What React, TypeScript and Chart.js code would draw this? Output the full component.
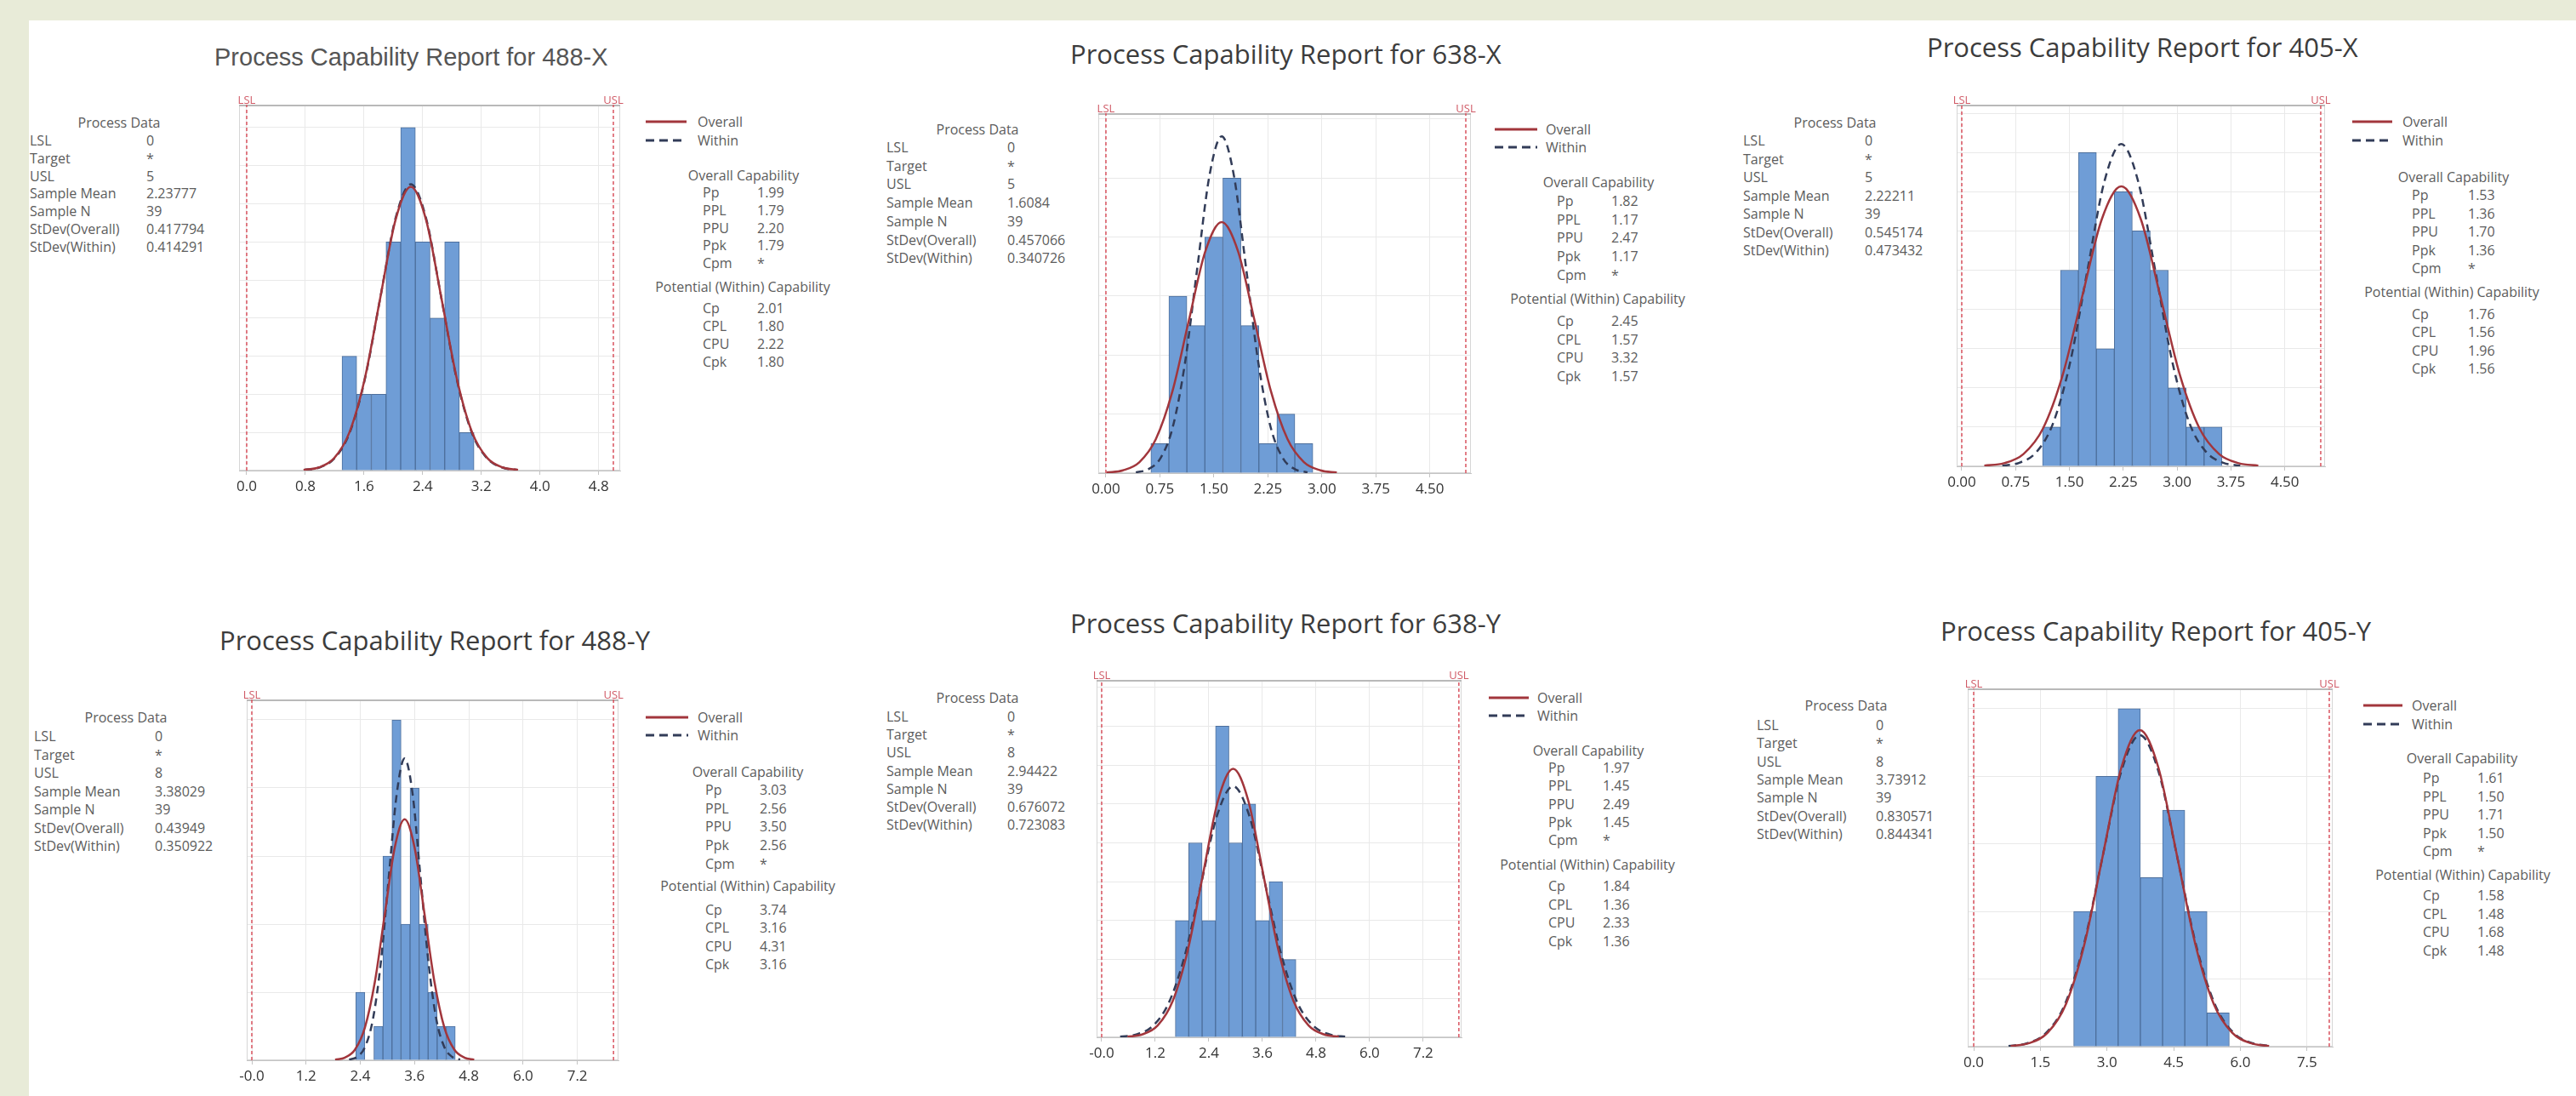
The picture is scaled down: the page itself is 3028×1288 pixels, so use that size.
import React, { useEffect, useRef } from 'react';
import { Chart, registerables } from 'chart.js';

Chart.register(...registerables);

// ---------------- shared labels ----------------
const processLabels = ['LSL', 'Target', 'USL', 'Sample Mean', 'Sample N', 'StDev(Overall)', 'StDev(Within)'];
const overallCapLabels = ['Pp', 'PPL', 'PPU', 'Ppk', 'Cpm'];
const potentialCapLabels = ['Cp', 'CPL', 'CPU', 'Cpk'];
const legendLabels = ['Overall', 'Within'];

// ---------------- Panel 1: 488-X ----------------
const p1Title = 'Process Capability Report for 488-X';
const p1Spec = [0, 5];
const p1BinMids = [1.4, 1.6, 1.8, 2.0, 2.2, 2.4, 2.6, 2.8, 3.0];
const p1Counts = [3, 2, 2, 6, 9, 6, 4, 6, 1];
const p1OverallX = [0.776, 0.984, 1.193, 1.402, 1.611, 1.820, 2.029, 2.238, 2.447, 2.656, 2.865, 3.073, 3.282, 3.491, 3.700];
const p1OverallY = [0.016, 0.083, 0.327, 1.008, 2.418, 4.517, 6.573, 7.448, 6.573, 4.517, 2.418, 1.008, 0.327, 0.083, 0.016];
const p1WithinX = [0.788, 0.995, 1.202, 1.409, 1.616, 1.824, 2.031, 2.238, 2.445, 2.652, 2.859, 3.066, 3.274, 3.481, 3.688];
const p1WithinY = [0.017, 0.083, 0.330, 1.016, 2.439, 4.555, 6.628, 7.511, 6.628, 4.555, 2.439, 1.016, 0.330, 0.083, 0.017];
const p1Ticks = [0, 0.8, 1.6, 2.4, 3.2, 4.0, 4.8];
const p1TickLabels = ['0.0', '0.8', '1.6', '2.4', '3.2', '4.0', '4.8'];
const p1Process = ['0', '*', '5', '2.23777', '39', '0.417794', '0.414291'];
const p1OverallCap = ['1.99', '1.79', '2.20', '1.79', '*'];
const p1PotentialCap = ['2.01', '1.80', '2.22', '1.80'];

// ---------------- Panel 2: 638-X ----------------
const p2Title = 'Process Capability Report for 638-X';
const p2Spec = [0, 5];
const p2BinMids = [0.75, 1.0, 1.25, 1.5, 1.75, 2.0, 2.25, 2.5, 2.75];
const p2Counts = [1, 6, 5, 8, 10, 5, 1, 2, 1];
const p2OverallX = [0.009, 0.237, 0.466, 0.694, 0.923, 1.151, 1.380, 1.608, 1.837, 2.066, 2.294, 2.523, 2.751, 2.980, 3.208];
const p2OverallY = [0.019, 0.094, 0.374, 1.151, 2.763, 5.161, 7.510, 8.510, 7.510, 5.161, 2.763, 1.151, 0.374, 0.094, 0.019];
const p2WithinX = [0.416, 0.586, 0.757, 0.927, 1.097, 1.268, 1.438, 1.608, 1.779, 1.949, 2.120, 2.290, 2.460, 2.631, 2.801];
const p2WithinY = [0.025, 0.127, 0.501, 1.545, 3.707, 6.924, 10.075, 11.416, 10.075, 6.924, 3.707, 1.545, 0.501, 0.127, 0.025];
const p2Ticks = [0, 0.75, 1.5, 2.25, 3.0, 3.75, 4.5];
const p2TickLabels = ['0.00', '0.75', '1.50', '2.25', '3.00', '3.75', '4.50'];
const p2Process = ['0', '*', '5', '1.6084', '39', '0.457066', '0.340726'];
const p2OverallCap = ['1.82', '1.17', '2.47', '1.17', '*'];
const p2PotentialCap = ['2.45', '1.57', '3.32', '1.57'];

// ---------------- Panel 3: 405-X ----------------
const p3Title = 'Process Capability Report for 405-X';
const p3Spec = [0, 5];
const p3BinMids = [1.25, 1.5, 1.75, 2.0, 2.25, 2.5, 2.75, 3.0, 3.25, 3.5];
const p3Counts = [1, 5, 8, 3, 7, 6, 5, 2, 1, 1];
const p3OverallX = [0.314, 0.587, 0.859, 1.132, 1.404, 1.677, 1.950, 2.222, 2.495, 2.767, 3.040, 3.312, 3.585, 3.858, 4.130];
const p3OverallY = [0.016, 0.079, 0.313, 0.965, 2.317, 4.327, 6.297, 7.135, 6.297, 4.327, 2.317, 0.965, 0.313, 0.079, 0.016];
const p3WithinX = [0.565, 0.802, 1.039, 1.275, 1.512, 1.749, 1.985, 2.222, 2.459, 2.696, 2.932, 3.169, 3.406, 3.642, 3.879];
const p3WithinY = [0.018, 0.091, 0.361, 1.112, 2.668, 4.983, 7.251, 8.216, 7.251, 4.983, 2.668, 1.112, 0.361, 0.091, 0.018];
const p3Ticks = [0, 0.75, 1.5, 2.25, 3.0, 3.75, 4.5];
const p3TickLabels = ['0.00', '0.75', '1.50', '2.25', '3.00', '3.75', '4.50'];
const p3Process = ['0', '*', '5', '2.22211', '39', '0.545174', '0.473432'];
const p3OverallCap = ['1.53', '1.36', '1.70', '1.36', '*'];
const p3PotentialCap = ['1.76', '1.56', '1.96', '1.56'];

// ---------------- Panel 4: 488-Y ----------------
const p4Title = 'Process Capability Report for 488-Y';
const p4Spec = [0, 8];
const p4BinMids = [2.4, 2.6, 2.8, 3.0, 3.2, 3.4, 3.6, 3.8, 4.0, 4.2, 4.4];
const p4Counts = [2, 0, 1, 6, 10, 4, 8, 4, 2, 1, 1];
const p4OverallX = [1.842, 2.062, 2.282, 2.501, 2.721, 2.941, 3.161, 3.380, 3.600, 3.820, 4.040, 4.259, 4.479, 4.699, 4.919];
const p4OverallY = [0.016, 0.079, 0.311, 0.958, 2.299, 4.294, 6.248, 7.080, 6.248, 4.294, 2.299, 0.958, 0.311, 0.079, 0.016];
const p4WithinX = [2.152, 2.327, 2.503, 2.678, 2.854, 3.029, 3.205, 3.380, 3.556, 3.731, 3.907, 4.082, 4.258, 4.433, 4.608];
const p4WithinY = [0.020, 0.098, 0.389, 1.200, 2.879, 5.378, 7.825, 8.867, 7.825, 5.378, 2.879, 1.200, 0.389, 0.098, 0.020];
const p4Ticks = [0, 1.2, 2.4, 3.6, 4.8, 6.0, 7.2];
const p4TickLabels = ['-0.0', '1.2', '2.4', '3.6', '4.8', '6.0', '7.2'];
const p4Process = ['0', '*', '8', '3.38029', '39', '0.43949', '0.350922'];
const p4OverallCap = ['3.03', '2.56', '3.50', '2.56', '*'];
const p4PotentialCap = ['3.74', '3.16', '4.31', '3.16'];

// ---------------- Panel 5: 638-Y ----------------
const p5Title = 'Process Capability Report for 638-Y';
const p5Spec = [0, 8];
const p5BinMids = [1.8, 2.1, 2.4, 2.7, 3.0, 3.3, 3.6, 3.9, 4.2];
const p5Counts = [3, 5, 3, 8, 5, 6, 3, 4, 2];
const p5OverallX = [0.578, 0.916, 1.254, 1.592, 1.930, 2.268, 2.606, 2.944, 3.282, 3.620, 3.958, 4.296, 4.634, 4.972, 5.311];
const p5OverallY = [0.015, 0.077, 0.303, 0.934, 2.242, 4.187, 6.093, 6.904, 6.093, 4.187, 2.242, 0.934, 0.303, 0.077, 0.015];
const p5WithinX = [0.414, 0.775, 1.137, 1.498, 1.860, 2.221, 2.583, 2.944, 3.306, 3.667, 4.029, 4.390, 4.752, 5.114, 5.475];
const p5WithinY = [0.014, 0.072, 0.283, 0.873, 2.096, 3.915, 5.697, 6.455, 5.697, 3.915, 2.096, 0.873, 0.283, 0.072, 0.014];
const p5Ticks = [0, 1.2, 2.4, 3.6, 4.8, 6.0, 7.2];
const p5TickLabels = ['-0.0', '1.2', '2.4', '3.6', '4.8', '6.0', '7.2'];
const p5Process = ['0', '*', '8', '2.94422', '39', '0.676072', '0.723083'];
const p5OverallCap = ['1.97', '1.45', '2.49', '1.45', '*'];
const p5PotentialCap = ['1.84', '1.36', '2.33', '1.36'];

// ---------------- Panel 6: 405-Y ----------------
const p6Title = 'Process Capability Report for 405-Y';
const p6Spec = [0, 8];
const p6BinMids = [2.5, 3.0, 3.5, 4.0, 4.5, 5.0, 5.5];
const p6Counts = [4, 8, 10, 5, 7, 4, 1];
const p6OverallX = [0.832, 1.247, 1.663, 2.078, 2.493, 2.909, 3.324, 3.739, 4.154, 4.570, 4.985, 5.400, 5.815, 6.231, 6.646];
const p6OverallY = [0.021, 0.104, 0.411, 1.267, 3.041, 5.680, 8.265, 9.366, 8.265, 5.680, 3.041, 1.267, 0.411, 0.104, 0.021];
const p6WithinX = [0.784, 1.206, 1.628, 2.050, 2.473, 2.895, 3.317, 3.739, 4.161, 4.583, 5.006, 5.428, 5.850, 6.272, 6.694];
const p6WithinY = [0.020, 0.102, 0.404, 1.247, 2.992, 5.588, 8.131, 9.214, 8.131, 5.588, 2.992, 1.247, 0.404, 0.102, 0.020];
const p6Ticks = [0, 1.5, 3.0, 4.5, 6.0, 7.5];
const p6TickLabels = ['0.0', '1.5', '3.0', '4.5', '6.0', '7.5'];
const p6Process = ['0', '*', '8', '3.73912', '39', '0.830571', '0.844341'];
const p6OverallCap = ['1.61', '1.50', '1.71', '1.50', '*'];
const p6PotentialCap = ['1.58', '1.48', '1.68', '1.48'];

// ---------------- styles ----------------
const BG = '#e8ebd8';
const BAR_FILL = '#6f9dd6';
const BAR_EDGE = '#4d6f9c';
const OVERALL_COLOR = '#a2363c';
const WITHIN_COLOR = '#323c58';
const SPEC_COLOR = '#d9535f';
const GRID_COLOR = '#e9e9e9';
const TEXT_COLOR = '#5c5c5c';
const FONT = "'Open Sans', 'Noto Sans', sans-serif";
const PADX = 32;
const PADT = 30;
const AXISH = 40;
const PADB = 6;

const PANELS = [
  {
    title: p1Title, spec: p1Spec, mids: p1BinMids, counts: p1Counts,
    ox: p1OverallX, oy: p1OverallY, wx: p1WithinX, wy: p1WithinY,
    ticks: p1Ticks, tickLabels: p1TickLabels, proc: p1Process, oc: p1OverallCap, pc: p1PotentialCap,
    plot: { left: 281, top: 123, right: 729, bottom: 553 }, xMin: -0.104, xMax: 5.093, yMax: 9.6, yStep: 1,
    titleL: { left: 252, cy: 67, family: "'Liberation Sans', Arial, sans-serif", size: 29, color: '#555' },
    pd: { cx: 140, cy: 144, labelX: 35, valueX: 172, y0: 165, dy: 20.8 },
    lg: { x0: 759, x1: 807, textX: 820, y1: 143, y2: 165 },
    cap: { cx: 874, cy: 206, labelX: 826, valueX: 890, y0: 226, dy: 20.8, potCx: 873, potCy: 337, potY0: 362, potDy: 21 },
  },
  {
    title: p2Title, spec: p2Spec, mids: p2BinMids, counts: p2Counts,
    ox: p2OverallX, oy: p2OverallY, wx: p2WithinX, wy: p2WithinY,
    ticks: p2Ticks, tickLabels: p2TickLabels, proc: p2Process, oc: p2OverallCap, pc: p2PotentialCap,
    plot: { left: 1291, top: 133, right: 1729, bottom: 556 }, xMin: -0.106, xMax: 5.071, yMax: 12.2, yStep: 2,
    titleL: { left: 1258, cy: 63, family: FONT, size: 31, color: '#3c3c3c' },
    pd: { cx: 1149, cy: 152, labelX: 1042, valueX: 1184, y0: 173, dy: 21.7 },
    lg: { x0: 1757, x1: 1807, textX: 1817, y1: 152, y2: 173 },
    cap: { cx: 1879, cy: 214, labelX: 1830, valueX: 1894, y0: 236, dy: 21.7, potCx: 1878, potCy: 351, potY0: 377, potDy: 21.7 },
  },
  {
    title: p3Title, spec: p3Spec, mids: p3BinMids, counts: p3Counts,
    ox: p3OverallX, oy: p3OverallY, wx: p3WithinX, wy: p3WithinY,
    ticks: p3Ticks, tickLabels: p3TickLabels, proc: p3Process, oc: p3OverallCap, pc: p3PotentialCap,
    plot: { left: 2300, top: 123, right: 2733, bottom: 548 }, xMin: -0.071, xMax: 5.06, yMax: 9.22, yStep: 1,
    titleL: { left: 2265, cy: 55, family: FONT, size: 31, color: '#3c3c3c' },
    pd: { cx: 2157, cy: 144, labelX: 2049, valueX: 2192, y0: 165, dy: 21.5 },
    lg: { x0: 2765, x1: 2812, textX: 2824, y1: 143, y2: 165 },
    cap: { cx: 2884, cy: 208, labelX: 2835, valueX: 2901, y0: 229, dy: 21.5, potCx: 2882, potCy: 343, potY0: 369, potDy: 21.3 },
  },
  {
    title: p4Title, spec: p4Spec, mids: p4BinMids, counts: p4Counts,
    ox: p4OverallX, oy: p4OverallY, wx: p4WithinX, wy: p4WithinY,
    ticks: p4Ticks, tickLabels: p4TickLabels, proc: p4Process, oc: p4OverallCap, pc: p4PotentialCap,
    plot: { left: 290, top: 822, right: 727, bottom: 1246 }, xMin: -0.113, xMax: 8.11, yMax: 10.6, yStep: 2,
    titleL: { left: 258, cy: 752, family: FONT, size: 31, color: '#3c3c3c' },
    pd: { cx: 148, cy: 843, labelX: 40, valueX: 182, y0: 865, dy: 21.5 },
    lg: { x0: 759, x1: 809, textX: 820, y1: 843, y2: 864 },
    cap: { cx: 879, cy: 907, labelX: 829, valueX: 893, y0: 928, dy: 21.7, potCx: 879, potCy: 1041, potY0: 1069, potDy: 21.3 },
  },
  {
    title: p5Title, spec: p5Spec, mids: p5BinMids, counts: p5Counts,
    ox: p5OverallX, oy: p5OverallY, wx: p5WithinX, wy: p5WithinY,
    ticks: p5Ticks, tickLabels: p5TickLabels, proc: p5Process, oc: p5OverallCap, pc: p5PotentialCap,
    plot: { left: 1289, top: 799, right: 1718, bottom: 1219 }, xMin: -0.114, xMax: 8.06, yMax: 9.19, yStep: 1,
    titleL: { left: 1258, cy: 732, family: FONT, size: 31, color: '#3c3c3c' },
    pd: { cx: 1149, cy: 820, labelX: 1042, valueX: 1184, y0: 842, dy: 21.2 },
    lg: { x0: 1750, x1: 1797, textX: 1807, y1: 820, y2: 841 },
    cap: { cx: 1867, cy: 882, labelX: 1820, valueX: 1884, y0: 902, dy: 21.3, potCx: 1866, potCy: 1016, potY0: 1041, potDy: 21.5 },
  },
  {
    title: p6Title, spec: p6Spec, mids: p6BinMids, counts: p6Counts,
    ox: p6OverallX, oy: p6OverallY, wx: p6WithinX, wy: p6WithinY,
    ticks: p6Ticks, tickLabels: p6TickLabels, proc: p6Process, oc: p6OverallCap, pc: p6PotentialCap,
    plot: { left: 2313, top: 809, right: 2742, bottom: 1230 }, xMin: -0.134, xMax: 8.077, yMax: 10.6, yStep: 2,
    titleL: { left: 2281, cy: 741, family: FONT, size: 31, color: '#3c3c3c' },
    pd: { cx: 2170, cy: 829, labelX: 2065, valueX: 2205, y0: 852, dy: 21.3 },
    lg: { x0: 2778, x1: 2824, textX: 2835, y1: 829, y2: 851 },
    cap: { cx: 2894, cy: 891, labelX: 2848, valueX: 2912, y0: 914, dy: 21.5, potCx: 2895, potCy: 1028, potY0: 1052, potDy: 21.7 },
  },
];

const toXY = (xs: number[], ys: number[]) => xs.map((x, i) => ({ x, y: ys[i] }));

const framePlugin = {
  id: 'capFrame',
  beforeDatasetsDraw(chart: any) {
    const { ctx, chartArea: a } = chart;
    ctx.save();
    ctx.strokeStyle = '#d6d6d6';
    ctx.lineWidth = 1;
    ctx.strokeRect(a.left + 0.5, a.top + 0.5, a.right - a.left - 1, a.bottom - a.top - 1);
    ctx.strokeStyle = '#b9b9b9';
    ctx.lineWidth = 2;
    ctx.beginPath();
    ctx.moveTo(a.left, a.top + 1);
    ctx.lineTo(a.right, a.top + 1);
    ctx.stroke();
    ctx.restore();
  },
  afterDatasetsDraw(chart: any, _args: any, opts: any) {
    const { ctx, chartArea: a, scales } = chart;
    const spec = opts.spec || [];
    const names = ['LSL', 'USL'];
    ctx.save();
    ctx.fillStyle = '#d05a66';
    ctx.font = `13px ${FONT}`;
    ctx.textAlign = 'center';
    ctx.textBaseline = 'bottom';
    spec.forEach((v: number, i: number) => {
      ctx.fillText(names[i], scales.x.getPixelForValue(v), a.top + 2);
    });
    ctx.restore();
  },
};

function HistChart({ cfg }: { cfg: any }) {
  const ref = useRef<HTMLCanvasElement | null>(null);
  const w = cfg.plot.right - cfg.plot.left + 2 * PADX;
  const h = cfg.plot.bottom - cfg.plot.top + PADT + AXISH + PADB;
  useEffect(() => {
    const canvas = ref.current;
    if (!canvas) return;
    const chart = new Chart(canvas, {
      type: 'bar',
      data: {
        datasets: [
          {
            type: 'line', label: 'Overall', data: toXY(cfg.ox, cfg.oy), borderColor: OVERALL_COLOR,
            borderWidth: 2.5, pointRadius: 0, cubicInterpolationMode: 'monotone', fill: false, order: 0,
          },
          {
            type: 'line', label: 'Within', data: toXY(cfg.wx, cfg.wy), borderColor: WITHIN_COLOR,
            borderWidth: 2.5, borderDash: [9, 6], pointRadius: 0, cubicInterpolationMode: 'monotone', fill: false, order: 1,
          },
          {
            type: 'line', label: 'LSL', data: [{ x: cfg.spec[0], y: 0 }, { x: cfg.spec[0], y: cfg.yMax }],
            borderColor: SPEC_COLOR, borderWidth: 1.5, borderDash: [4, 3], pointRadius: 0, order: 2,
          },
          {
            type: 'line', label: 'USL', data: [{ x: cfg.spec[1], y: 0 }, { x: cfg.spec[1], y: cfg.yMax }],
            borderColor: SPEC_COLOR, borderWidth: 1.5, borderDash: [4, 3], pointRadius: 0, order: 2,
          },
          {
            type: 'bar', label: 'Count', data: toXY(cfg.mids, cfg.counts), backgroundColor: BAR_FILL,
            borderColor: BAR_EDGE, borderWidth: 1, barPercentage: 1, categoryPercentage: 1, order: 3,
          },
        ],
      } as any,
      options: {
        animation: false,
        responsive: false,
        events: [],
        layout: { padding: { left: PADX, right: PADX, top: PADT, bottom: PADB } },
        plugins: { legend: { display: false }, tooltip: { enabled: false }, capFrame: { spec: cfg.spec } } as any,
        scales: {
          x: {
            type: 'linear', min: cfg.xMin, max: cfg.xMax, offset: false,
            grid: { offset: false, color: GRID_COLOR, tickLength: 5, tickColor: '#c4c4c4' },
            border: { color: '#c4c4c4' },
            ticks: {
              autoSkip: false, maxRotation: 0, minRotation: 0, padding: 4, color: '#333',
              font: { family: FONT, size: 17 },
              callback: (v: any) => {
                const idx = cfg.ticks.findIndex((t: number) => Math.abs(t - Number(v)) < 1e-6);
                return idx >= 0 ? cfg.tickLabels[idx] : '';
              },
            },
            afterBuildTicks: (s: any) => { s.ticks = cfg.ticks.map((v: number) => ({ value: v })); },
            afterFit: (s: any) => { s.height = AXISH; },
          },
          y: {
            type: 'linear', min: 0, max: cfg.yMax,
            ticks: { display: false, stepSize: cfg.yStep, includeBounds: false },
            grid: { color: GRID_COLOR, drawTicks: false },
            border: { display: false },
            afterFit: (s: any) => { s.width = 0; },
          },
        } as any,
      },
      plugins: [framePlugin],
    } as any);
    return () => chart.destroy();
  }, [cfg]);
  return (
    <canvas
      ref={ref}
      width={w}
      height={h}
      style={{ position: 'absolute', left: cfg.plot.left - PADX, top: cfg.plot.top - PADT, width: w, height: h }}
    />
  );
}

function Txt({ x, cy, text, size = 16, color = TEXT_COLOR, center = false, family = FONT }: any) {
  return (
    <div
      style={{
        position: 'absolute', left: x, top: cy, transform: center ? 'translate(-50%, -50%)' : 'translateY(-50%)',
        fontFamily: family, fontSize: size, lineHeight: 1, color, whiteSpace: 'nowrap',
      }}
    >
      {text}
    </div>
  );
}

function Panel({ cfg }: { cfg: any }) {
  const { pd, lg, cap, titleL } = cfg;
  return (
    <>
      <Txt x={titleL.left} cy={titleL.cy} text={cfg.title} size={titleL.size} color={titleL.color} family={titleL.family} />
      <Txt x={pd.cx} cy={pd.cy} text="Process Data" center />
      {processLabels.map((l, i) => (
        <React.Fragment key={'pd' + i}>
          <Txt x={pd.labelX} cy={pd.y0 + i * pd.dy} text={l} />
          <Txt x={pd.valueX} cy={pd.y0 + i * pd.dy} text={cfg.proc[i]} />
        </React.Fragment>
      ))}
      <svg style={{ position: 'absolute', left: lg.x0, top: lg.y1 - 3, overflow: 'visible' }} width={lg.x1 - lg.x0} height={lg.y2 - lg.y1 + 6}>
        <line x1={0} y1={3} x2={lg.x1 - lg.x0} y2={3} stroke={OVERALL_COLOR} strokeWidth={3} />
        <line x1={0} y1={lg.y2 - lg.y1 + 3} x2={lg.x1 - lg.x0} y2={lg.y2 - lg.y1 + 3} stroke={WITHIN_COLOR} strokeWidth={3} strokeDasharray="10 6" />
      </svg>
      <Txt x={lg.textX} cy={lg.y1} text={legendLabels[0]} />
      <Txt x={lg.textX} cy={lg.y2} text={legendLabels[1]} />
      <Txt x={cap.cx} cy={cap.cy} text="Overall Capability" center />
      {overallCapLabels.map((l, i) => (
        <React.Fragment key={'oc' + i}>
          <Txt x={cap.labelX} cy={cap.y0 + i * cap.dy} text={l} />
          <Txt x={cap.valueX} cy={cap.y0 + i * cap.dy} text={cfg.oc[i]} />
        </React.Fragment>
      ))}
      <Txt x={cap.potCx} cy={cap.potCy} text="Potential (Within) Capability" center />
      {potentialCapLabels.map((l, i) => (
        <React.Fragment key={'pc' + i}>
          <Txt x={cap.labelX} cy={cap.potY0 + i * cap.potDy} text={l} />
          <Txt x={cap.valueX} cy={cap.potY0 + i * cap.potDy} text={cfg.pc[i]} />
        </React.Fragment>
      ))}
      <HistChart cfg={cfg} />
    </>
  );
}

export default function App() {
  return (
    <div style={{ position: 'absolute', left: 0, top: 0, width: 3028, height: 1288, background: BG, overflow: 'hidden' }}>
      <div style={{ position: 'absolute', left: 34, top: 24, right: 0, bottom: 0, background: '#ffffff' }} />
      {PANELS.map((p, i) => (
        <Panel key={i} cfg={p} />
      ))}
    </div>
  );
}
